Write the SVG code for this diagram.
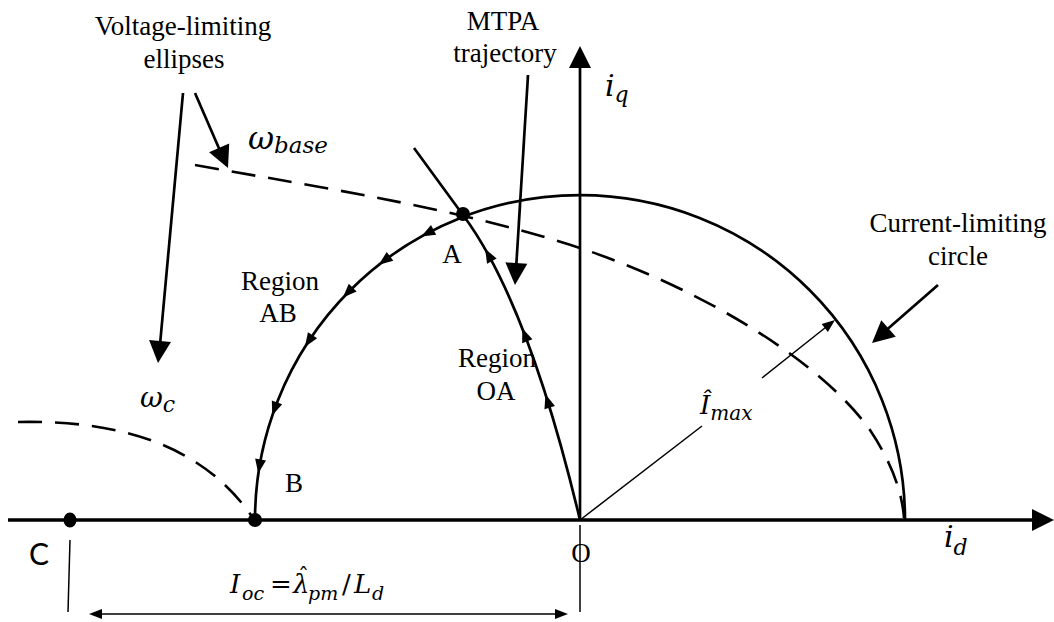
<svg xmlns="http://www.w3.org/2000/svg" xmlns:xlink="http://www.w3.org/1999/xlink" width="1054" height="622" viewBox="0 0 1054 622">
<style>
.ln{fill:none;stroke:#000;stroke-width:2.7}
.ax{fill:none;stroke:#000;stroke-width:3.5}
.dash{fill:none;stroke:#000;stroke-width:2.6;stroke-dasharray:24 13}
.thin{fill:none;stroke:#000;stroke-width:1.5}
.head{fill:#000;stroke:none}
.lbl{font-family:"Liberation Serif","Times New Roman",serif;font-size:27px;fill:#000;text-anchor:middle}
.math{font-family:"DejaVu Serif",serif;font-style:italic;fill:#000}
.up{font-style:normal}
.sans{font-family:Lato,"Open Sans",sans-serif;font-size:30px;fill:#000;text-anchor:middle}
</style>
<defs>
<path id="ahs" class="head" d="M7,0 L-7,-5.5 L-7,5.5 Z"/>
<path id="ahb" class="head" d="M0,0 L-22,-11 L-22,11 Z"/>
<path id="aht" class="head" d="M0,0 L-13,-5 L-13,5 Z"/>
</defs>

<g id="axes">
<line class="ax" x1="8" y1="520" x2="1036" y2="520"/>
<use xlink:href="#ahb" transform="translate(1054,520)"/>
<line class="ln" x1="580" y1="520" x2="580" y2="66"/>
<use xlink:href="#ahb" transform="translate(580,46) rotate(-90)"/>
</g>

<g id="current-limiting-circle">
<path class="ln" d="M255,520 A325,325 0 0 1 905,520"/>
<use xlink:href="#ahs" transform="translate(427.4,233.1) rotate(152)"/>
<use xlink:href="#ahs" transform="translate(384.4,260.5) rotate(143)"/>
<use xlink:href="#ahs" transform="translate(347.8,292.6) rotate(134.4)"/>
<use xlink:href="#ahs" transform="translate(308.7,341.1) rotate(123.4)"/>
<use xlink:href="#ahs" transform="translate(274.6,408.9) rotate(110)"/>
<use xlink:href="#ahs" transform="translate(259.4,466.4) rotate(99.5)"/>
</g>

<g id="voltage-ellipses">
<path class="dash" d="M195,165 C330,189 460,209 580,248 C700,288 820,360 870,430 C890,460 902,490 904,518"/>
<path class="dash" d="M18,422 C110,420 200,440 253,518"/>
</g>

<g id="labels">
<text class="lbl" x="183" y="35">Voltage-limiting</text>
<text class="lbl" x="184" y="68">ellipses</text>
<text class="lbl" x="503" y="30">MTPA</text>
<text class="lbl" x="505" y="62">trajectory</text>
<text class="lbl" x="958" y="232">Current-limiting</text>
<text class="lbl" x="958" y="265">circle</text>
<text class="lbl" x="280" y="290">Region</text>
<text class="lbl" x="278" y="322">AB</text>
<text class="lbl" x="497" y="367">Region</text>
<text class="lbl" x="496" y="400">OA</text>
<text class="lbl" x="452" y="263">A</text>
<text class="lbl" x="294" y="492">B</text>
<text class="lbl" x="581" y="562">O</text>
<text class="sans" x="39" y="565">C</text>
<text class="math" x="248" y="149" font-size="32">ω<tspan font-size="23" dy="4">base</tspan></text>
<text class="math" x="140" y="407" font-size="28">ω<tspan font-size="22" dy="5">c</tspan></text>
<text class="math" x="605" y="96" font-size="30">i<tspan font-size="22" dy="6">q</tspan></text>
<text class="math" x="944" y="547" font-size="30">i<tspan font-size="22" dy="8">d</tspan></text>
<text class="math" x="700" y="414" font-size="26">Î<tspan font-size="20" dy="6">max</tspan></text>
<text class="math" font-size="26"><tspan x="230" y="593">I</tspan><tspan x="242" y="600" font-size="19">oc</tspan><tspan class="up" x="270" y="593">=</tspan><tspan x="293" y="593">λ</tspan><tspan class="up" x="298" y="584" font-size="22">ˆ</tspan><tspan x="308" y="600" font-size="19">pm</tspan><tspan class="up" x="342" y="593">/</tspan><tspan x="354" y="593">L</tspan><tspan x="372" y="600" font-size="19">d</tspan></text>
</g>

<g id="mtpa-trajectory">
<path class="ln" d="M580,520 Q528,302 463,215 L414,148"/>
<use xlink:href="#ahs" transform="translate(488.5,255) rotate(-118.9)"/>
<use xlink:href="#ahs" transform="translate(524.8,334.8) rotate(-111)"/>
<use xlink:href="#ahs" transform="translate(547.6,401) rotate(-107.4)"/>
</g>

<g id="points">
<circle id="point-A" cx="463" cy="214" r="7"/>
<circle id="point-B" cx="255" cy="520" r="7"/>
<ellipse id="point-C" cx="70" cy="520" rx="6.5" ry="7.5"/>
</g>

<g id="connectors">
<line class="ln" x1="183" y1="93" x2="159.7" y2="348"/>
<use xlink:href="#ahb" transform="translate(158,363) rotate(95.3)"/>
<line class="ln" x1="195" y1="93" x2="221" y2="153"/>
<use xlink:href="#ahb" transform="translate(228,168) rotate(66.25)"/>
<line class="ln" x1="528" y1="75" x2="516" y2="270"/>
<use xlink:href="#ahb" transform="translate(515,285) rotate(93.5)"/>
<line class="ln" x1="938" y1="285" x2="883" y2="333"/>
<use xlink:href="#ahb" transform="translate(872,343) rotate(138.7)"/>
<line class="thin" x1="580" y1="520" x2="702" y2="426"/>
<line class="thin" x1="762" y1="378" x2="828" y2="325.5"/>
<use xlink:href="#aht" transform="translate(835,320) rotate(-38.1)"/>
<line class="thin" x1="580" y1="525" x2="580" y2="612"/>
<line class="thin" x1="70" y1="540" x2="68" y2="612"/>
<line class="thin" x1="95" y1="614" x2="562" y2="614"/>
<use xlink:href="#aht" transform="translate(89,614) rotate(180)"/>
<use xlink:href="#aht" transform="translate(568,614)"/>
</g>
</svg>
